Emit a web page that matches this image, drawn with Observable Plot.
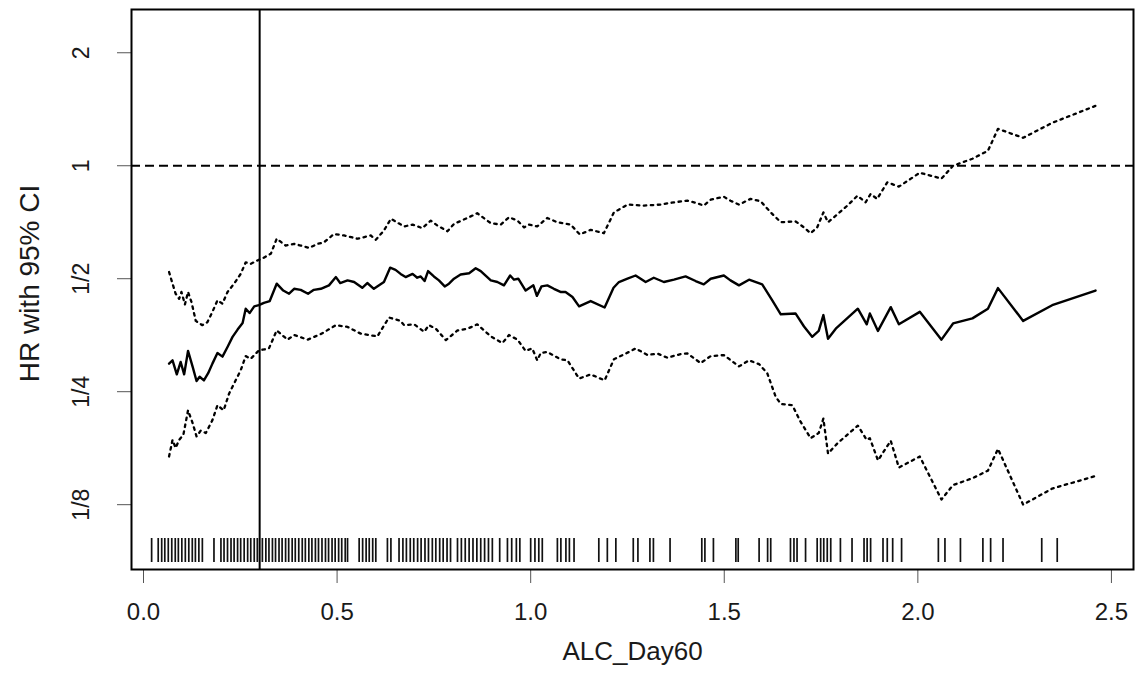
<!DOCTYPE html>
<html>
<head>
<meta charset="utf-8">
<script src="https://cdn.jsdelivr.net/npm/d3@7"></script>
<script src="https://cdn.jsdelivr.net/npm/@observablehq/plot@0.6"></script>
<style>
  html, body { margin: 0; padding: 0; background: #fff; }
  #chart svg { display: block; }
</style>
</head>
<body>
<div id="chart"></div>
<script>
// ---- Data ----
const hrX = [0.066,0.075,0.086,0.096,0.105,0.115,0.127,0.137,0.145,0.156,
  0.167,0.178,0.191,0.204,0.217,0.230,0.243,0.256,0.264,0.274,
  0.286,0.298,0.311,0.326,0.344,0.361,0.376,0.389,0.406,0.425,
  0.440,0.458,0.479,0.497,0.508,0.527,0.544,0.565,0.578,0.595,
  0.621,0.637,0.651,0.664,0.677,0.695,0.707,0.716,0.726,0.735,
  0.750,0.763,0.778,0.789,0.802,0.819,0.841,0.858,0.871,0.897,
  0.914,0.931,0.947,0.957,0.968,0.987,1.007,1.016,1.028,1.043,
  1.060,1.077,1.090,1.108,1.125,1.155,1.191,1.214,1.228,1.250,
  1.271,1.297,1.318,1.344,1.370,1.400,1.426,1.447,1.465,1.499,
  1.516,1.538,1.564,1.598,1.624,1.646,1.684,1.706,1.727,1.744,
  1.756,1.768,1.788,1.845,1.868,1.876,1.897,1.930,1.951,2.005,
  2.061,2.091,2.141,2.181,2.207,2.272,2.347,2.459];
const hrY = [0.297,0.303,0.278,0.300,0.278,0.321,0.291,0.267,0.274,0.268,
  0.280,0.297,0.317,0.310,0.329,0.350,0.366,0.381,0.416,0.405,
  0.422,0.425,0.431,0.436,0.485,0.465,0.456,0.470,0.467,0.456,
  0.467,0.470,0.480,0.505,0.487,0.495,0.490,0.473,0.487,0.470,
  0.490,0.535,0.528,0.515,0.505,0.515,0.503,0.507,0.493,0.524,
  0.507,0.495,0.477,0.485,0.500,0.513,0.517,0.533,0.524,0.495,
  0.490,0.480,0.510,0.497,0.500,0.465,0.480,0.450,0.477,0.480,
  0.470,0.461,0.461,0.447,0.422,0.436,0.419,0.473,0.490,0.500,
  0.510,0.490,0.503,0.490,0.497,0.507,0.493,0.483,0.500,0.510,
  0.495,0.480,0.497,0.483,0.438,0.402,0.404,0.373,0.350,0.363,
  0.400,0.346,0.368,0.416,0.378,0.404,0.363,0.420,0.378,0.408,
  0.344,0.380,0.392,0.416,0.472,0.386,0.425,0.465];

const upX = [0.066,0.075,0.083,0.092,0.098,0.107,0.115,0.124,0.135,0.152,
  0.165,0.178,0.191,0.204,0.217,0.234,0.251,0.264,0.277,0.294,
  0.311,0.329,0.344,0.367,0.389,0.406,0.428,0.449,0.466,0.492,
  0.518,0.553,0.587,0.600,0.621,0.639,0.673,0.695,0.720,0.742,
  0.759,0.785,0.802,0.837,0.862,0.897,0.923,0.944,0.966,0.983,
  0.996,1.017,1.043,1.069,1.103,1.127,1.155,1.189,1.215,1.250,
  1.293,1.336,1.370,1.405,1.426,1.447,1.465,1.499,1.516,1.538,
  1.568,1.594,1.620,1.646,1.684,1.706,1.723,1.740,1.756,1.768,
  1.788,1.818,1.844,1.865,1.878,1.895,1.921,1.951,2.005,2.061,
  2.091,2.141,2.181,2.207,2.272,2.347,2.459];
const upY = [0.521,0.485,0.456,0.442,0.461,0.427,0.461,0.433,0.386,0.376,
  0.383,0.408,0.438,0.429,0.461,0.485,0.515,0.553,0.548,0.559,
  0.569,0.583,0.639,0.613,0.619,0.613,0.604,0.619,0.625,0.658,
  0.652,0.639,0.652,0.635,0.672,0.722,0.689,0.697,0.682,0.714,
  0.693,0.669,0.700,0.726,0.747,0.703,0.697,0.729,0.714,0.685,
  0.697,0.689,0.726,0.707,0.697,0.656,0.675,0.661,0.751,0.788,
  0.783,0.788,0.799,0.807,0.797,0.783,0.812,0.827,0.807,0.788,
  0.816,0.804,0.751,0.707,0.711,0.685,0.661,0.685,0.751,0.707,
  0.736,0.783,0.832,0.799,0.841,0.816,0.903,0.880,0.958,0.924,
  1.000,1.044,1.096,1.254,1.187,1.301,1.444];

const loX = [0.066,0.075,0.083,0.092,0.103,0.115,0.127,0.137,0.148,0.161,
  0.178,0.191,0.207,0.221,0.238,0.251,0.264,0.277,0.298,0.324,
  0.344,0.372,0.389,0.424,0.458,0.497,0.527,0.561,0.604,0.634,
  0.664,0.673,0.699,0.725,0.737,0.755,0.781,0.811,0.837,0.862,
  0.897,0.927,0.944,0.966,0.987,1.004,1.017,1.026,1.043,1.077,
  1.095,1.125,1.155,1.191,1.215,1.246,1.271,1.302,1.327,1.353,
  1.388,1.405,1.439,1.465,1.499,1.538,1.564,1.590,1.611,1.633,
  1.646,1.676,1.697,1.723,1.744,1.756,1.768,1.792,1.845,1.868,
  1.876,1.897,1.930,1.951,2.005,2.061,2.091,2.141,2.181,2.207,
  2.272,2.347,2.459];
const loY = [0.168,0.186,0.177,0.186,0.192,0.223,0.206,0.190,0.197,0.194,
  0.210,0.230,0.223,0.247,0.268,0.285,0.311,0.306,0.322,0.326,
  0.364,0.344,0.354,0.344,0.356,0.376,0.372,0.357,0.351,0.394,
  0.386,0.376,0.378,0.361,0.376,0.368,0.343,0.364,0.368,0.378,
  0.351,0.337,0.354,0.344,0.321,0.326,0.303,0.317,0.319,0.305,
  0.303,0.271,0.278,0.268,0.305,0.316,0.326,0.313,0.316,0.308,
  0.315,0.316,0.298,0.311,0.313,0.292,0.303,0.296,0.280,0.242,
  0.232,0.230,0.208,0.188,0.194,0.212,0.171,0.182,0.203,0.186,
  0.188,0.164,0.185,0.157,0.168,0.129,0.141,0.147,0.154,0.176,
  0.125,0.138,0.149];

const rugX = [0.021,
  0.038,0.047,0.055,0.064,0.073,0.082,0.090,0.099,0.108,0.117,0.126,0.134,0.143,0.152,
  0.182,
  0.200,0.208,0.217,0.226,0.234,0.243,0.251,0.260,0.269,0.277,0.286,0.294,
  0.307,0.316,0.324,0.333,0.341,0.350,0.358,0.367,0.375,0.384,0.392,0.401,0.410,
  0.418,0.427,0.435,0.444,0.452,0.461,0.470,0.478,0.487,0.495,0.504,0.512,0.521,0.527,
  0.557,0.566,0.575,0.583,0.592,0.600,
  0.630,0.639,
  0.660,0.670,0.679,0.689,0.698,0.708,0.717,0.727,0.736,0.746,0.755,0.765,0.774,0.784,0.793,
  0.811,0.821,0.831,0.841,0.851,0.861,0.871,0.881,0.891,0.901,
  0.920,
  0.940,0.951,0.963,0.972,
  1.000,1.011,1.021,1.030,
  1.069,1.078,1.091,1.100,1.112,
  1.176,1.198,1.220,1.265,1.277,1.308,1.317,1.360,
  1.442,1.450,1.472,1.530,1.536,1.590,1.612,1.620,
  1.671,1.680,1.688,1.710,1.740,1.749,1.757,1.766,1.775,1.800,1.830,
  1.861,1.869,1.878,1.910,1.921,1.935,1.958,
  2.053,2.070,2.110,2.168,2.188,2.220,2.320,2.360];

const xTicks = [0, 0.5, 1.0, 1.5, 2.0, 2.5];
const yTicks = [2, 1, 0.5, 0.25, 0.125];
const yTickLabels = ["2", "1", "1/2", "1/4", "1/8"];
const cutoffX = [0.3];
const nullHR = [1];
const xTitle = "ALC_Day60";
const yTitle = "HR with 95% CI";

// ---- Build tables ----
const hr = hrX.map((x, i) => ({x, y: hrY[i]}));
const up = upX.map((x, i) => ({x, y: upY[i]}));
const lo = loX.map((x, i) => ({x, y: loY[i]}));
const yLab = yTicks.map((v, i) => ({v, label: yTickLabels[i]}));

const font = "'Liberation Sans', Arial, Helvetica, sans-serif";

const chart = Plot.plot({
  width: 1142,
  height: 694,
  marginLeft: 131,
  marginRight: 9,
  marginTop: 9,
  marginBottom: 125,
  style: {fontFamily: font, background: "#fff", color: "#000"},
  x: {domain: [-0.031, 2.557]},
  y: {type: "log", base: 2, domain: [0.08398, 2.608]},
  marks: [
    // axes ticks
    Plot.axisX({ticks: xTicks, tickSize: 14, tickPadding: 19, tickFormat: d3.format(".1f"),
      fontSize: 24, stroke: "#555", strokeWidth: 1, fill: "#1a1a1a", label: null}),
    Plot.axisY({ticks: yTicks, tickSize: 14, tickFormat: () => "", stroke: "#555",
      strokeWidth: 1, label: null}),
    Plot.text(yLab, {y: "v", text: "label", frameAnchor: "left", dx: -50, rotate: -90,
      fontSize: 23, fill: "#1a1a1a", textAnchor: "middle", lineAnchor: "middle"}),
    // titles
    Plot.text([xTitle], {frameAnchor: "bottom", dy: 82, fontSize: 26, fill: "#1a1a1a",
      textAnchor: "middle", lineAnchor: "middle"}),
    Plot.text([yTitle], {frameAnchor: "left", dx: -101, dy: -6, rotate: -90, fontSize: 28,
      fill: "#1a1a1a", textAnchor: "middle", lineAnchor: "middle"}),
    // reference lines
    Plot.ruleY(nullHR, {y: d => d, stroke: "#000", strokeWidth: 2, strokeDasharray: "9,5"}),
    Plot.ruleX(cutoffX, {x: d => d, stroke: "#000", strokeWidth: 2}),
    // rug
    Plot.ruleX(rugX, {x: d => d, insetTop: 529, insetBottom: 7, stroke: "#111", strokeWidth: 1.7}),
    // curves
    Plot.line(up, {x: "x", y: "y", stroke: "#000", strokeWidth: 2.3, strokeDasharray: "2.5,4.5"}),
    Plot.line(lo, {x: "x", y: "y", stroke: "#000", strokeWidth: 2.3, strokeDasharray: "2.5,4.5"}),
    Plot.line(hr, {x: "x", y: "y", stroke: "#000", strokeWidth: 2.4}),
    Plot.frame({stroke: "#000", strokeWidth: 2})
  ]
});

document.getElementById("chart").appendChild(chart);
</script>
</body>
</html>
